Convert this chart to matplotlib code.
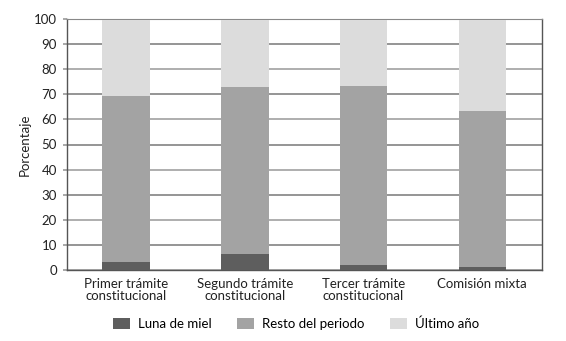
import matplotlib
matplotlib.use("Agg")
import matplotlib.pyplot as plt
import numpy as np

categories = ["Primer trámite\nconstitucional", "Segundo trámite\nconstitucional",
              "Tercer trámite\nconstitucional", "Comisión mixta"]
luna = [3.1, 6.5, 2.1, 1.2]
resto = [66.1, 66.4, 71.2, 62.1]
ultimo = [30.4, 26.7, 26.3, 36.3]
series_names = ["Luna de miel", "Resto del periodo", "Último año"]
colors = ["#5e5e5e", "#a3a3a3", "#dcdcdc"]
yticks = list(range(0, 101, 10))

plt.rcParams['font.family'] = ['Lato', 'DejaVu Sans']
fig = plt.figure(figsize=(5.66, 3.41), dpi=100)
ax = fig.add_axes([66.7/566, 1-270/341, 475/566, 251/341])

x = np.arange(len(categories))
w = 0.40
b1 = ax.bar(x, luna, w, color=colors[0], label=series_names[0], zorder=3)
b2 = ax.bar(x, resto, w, bottom=luna, color=colors[1], label=series_names[1], zorder=3)
bot = np.array(luna) + np.array(resto)
b3 = ax.bar(x, ultimo, w, bottom=bot, color=colors[2], label=series_names[2], zorder=3)

ax.set_xlim(-0.5, 3.5)
ax.set_ylim(0, 100)
ax.set_yticks(yticks)
ax.set_yticklabels([str(t) for t in yticks], fontsize=9.5, color="#222222")
ax.set_xticks(x)
ax.set_xticklabels(categories, fontsize=9.5, color="#222222", linespacing=1.0)
ax.tick_params(axis='x', length=0, pad=6)
ax.tick_params(axis='y', length=3, color="#999999", width=1.2, pad=4)
for i, t in enumerate(yticks):
    ax.axhline(t, color="#8c8c8c" if i % 2 == 1 else "#a8a8a8", lw=1.3, zorder=1)
for s in ["left", "right", "bottom"]:
    ax.spines[s].set_color("#555555")
    ax.spines[s].set_linewidth(1.0)
ax.spines["top"].set_color("#888888")
ax.set_ylabel("Porcentaje", fontsize=9.5, color="#222222", labelpad=2)

leg = fig.legend(handles=[b1, b2, b3], labels=series_names, loc="center",
                 bbox_to_anchor=(0.523, 1-324/341), ncol=3, frameon=False,
                 fontsize=9.5, handlelength=1.3, handleheight=0.9,
                 columnspacing=1.9, handletextpad=0.6)
fig.savefig("out.png", dpi=100)
